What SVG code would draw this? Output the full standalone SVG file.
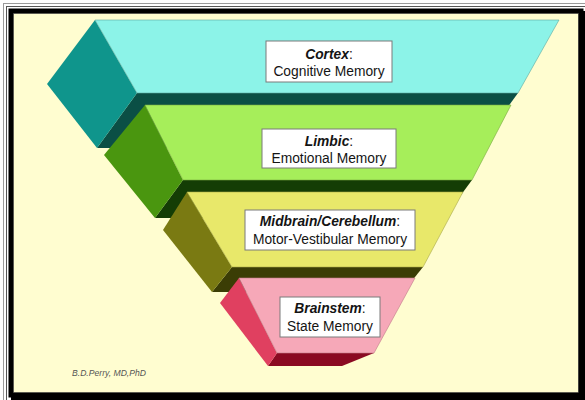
<svg xmlns="http://www.w3.org/2000/svg" width="585" height="400" viewBox="0 0 585 400">
<style>
.box{fill:#ffffff;stroke:#7a7a7a;stroke-width:1}
.t{font-family:"Liberation Sans",Arial,sans-serif;font-size:13.8px;fill:#141414;text-anchor:middle}
.b{font-weight:bold;font-style:italic}
.ft{font-family:"Liberation Sans",Arial,sans-serif;font-size:8.5px;font-style:italic;fill:#555}
</style>
<rect x="0" y="0" width="585" height="400" fill="#ffffff"/>
<rect x="3.5" y="3.5" width="590" height="400" fill="none" stroke="#9a9a9a" stroke-width="1"/>
<rect x="6.5" y="6.5" width="590" height="400" fill="none" stroke="#555" stroke-width="1"/>
<rect x="11" y="11" width="570" height="384" fill="#fffdd0" stroke="#000" stroke-width="5"/>
<rect x="578.5" y="11" width="7" height="389" fill="#000"/>
<rect x="11" y="393" width="574" height="7" fill="#000"/>
<rect x="13.5" y="13.5" width="565" height="379" fill="none" stroke="#444" stroke-width="0.6"/>

<g id="cortex">
<polygon points="137,93 518,93 478,148 97,148" fill="#0b4f45"/>
<polygon points="95,20 47,84 97,148 137,93" fill="#0f958c"/>
<polygon points="95,20 559,20 518,93 137,93" fill="#8cf3e8" stroke="#5aa8a0" stroke-width="0.6"/>
<rect class="box" x="266" y="41" width="126" height="41"/>
<text class="t" x="329" y="59"><tspan class="b">Cortex</tspan>:</text>
<text class="t" x="329" y="76">Cognitive Memory</text>
</g>

<g id="limbic">
<polygon points="183,180 472,180 444,218 155,218" fill="#143d05"/>
<polygon points="145,105 104,155 155,218 183,180" fill="#4a960f"/>
<polygon points="145,105 511,105 472,180 183,180" fill="#a6ee5a" stroke="#78a840" stroke-width="0.6"/>
<rect class="box" x="262" y="129" width="134" height="39"/>
<text class="t" x="329" y="146"><tspan class="b">Limbic</tspan>:</text>
<text class="t" x="329" y="163">Emotional Memory</text>
</g>

<g id="midbrain">
<polygon points="232,267 423,267 403,292 212,292" fill="#3b3d05"/>
<polygon points="187,192 163,230 212,292 232,267" fill="#7a7a12"/>
<polygon points="187,192 463,192 423,267 232,267" fill="#e8e86a" stroke="#a8a848" stroke-width="0.6"/>
<rect class="box" x="245" y="210" width="170" height="40"/>
<text class="t" x="330" y="226"><tspan class="b">Midbrain/Cerebellum</tspan>:</text>
<text class="t" x="330" y="244">Motor-Vestibular Memory</text>
</g>

<g id="brainstem">
<polygon points="277,353 374,353 342,366 268,366" fill="#8a0a22"/>
<polygon points="239,278 220,303 268,366 277,353" fill="#e04060"/>
<polygon points="239,278 415,278 374,353 277,353" fill="#f6a8b8" stroke="#c07888" stroke-width="0.6"/>
<rect class="box" x="280" y="297" width="100" height="40"/>
<text class="t" x="330" y="313"><tspan class="b">Brainstem</tspan>:</text>
<text class="t" x="330" y="331">State Memory</text>
</g>

<g id="connectors"></g>

<text class="ft" x="72" y="376" textLength="74" lengthAdjust="spacingAndGlyphs">B.D.Perry, MD,PhD</text>
</svg>
